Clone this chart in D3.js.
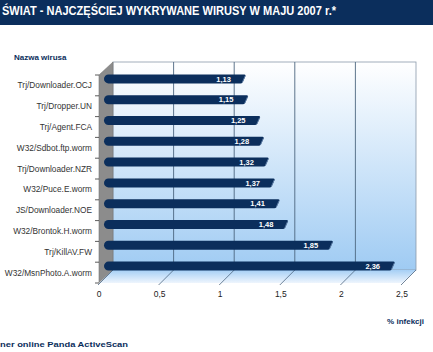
<!DOCTYPE html>
<html>
<head>
<meta charset="utf-8">
<script src="https://cdn.jsdelivr.net/npm/d3@7"></script>
<style>
  body { margin: 0; background: #fff; }
  text { font-family: Arial, "Liberation Sans", sans-serif; }
</style>
</head>
<body>
<div id="chart"></div>
<script>
const viruses = ["Trj/Downloader.OCJ", "Trj/Dropper.UN", "Trj/Agent.FCA", "W32/Sdbot.ftp.worm",
  "Trj/Downloader.NZR", "W32/Puce.E.worm", "JS/Downloader.NOE", "W32/Brontok.H.worm",
  "Trj/KillAV.FW", "W32/MsnPhoto.A.worm"];
const infections = [1.13, 1.15, 1.25, 1.28, 1.32, 1.37, 1.41, 1.48, 1.85, 2.36];
const xTicks = [0, 0.5, 1, 1.5, 2, 2.5];

const W = 433, H = 352;
const depth = { dx: 14, dy: -13 };
const navy = "#0b2e5c";

const svg = d3.select("#chart").append("svg")
  .attr("width", W).attr("height", H);

const defs = svg.append("defs");
const wallGrad = defs.append("linearGradient").attr("id", "wall")
  .attr("x1", 0).attr("y1", 0).attr("x2", 0).attr("y2", 1);
wallGrad.append("stop").attr("offset", "0%").attr("stop-color", "#ffffff");
wallGrad.append("stop").attr("offset", "100%").attr("stop-color", "#9fcbf3");
const floorGrad = defs.append("linearGradient").attr("id", "floor")
  .attr("x1", 0).attr("y1", 0).attr("x2", 0).attr("y2", 1);
floorGrad.append("stop").attr("offset", "0%").attr("stop-color", "#a6cff5");
floorGrad.append("stop").attr("offset", "100%").attr("stop-color", "#eef5fd");

// title bar
svg.append("rect").attr("x", 0).attr("y", 0).attr("width", W).attr("height", 25).attr("fill", navy);
svg.append("text").attr("x", 2).attr("y", 15)
  .attr("fill", "#fff").attr("font-size", 13).attr("font-weight", "bold")
  .attr("textLength", 334).attr("lengthAdjust", "spacingAndGlyphs")
  .text("ŚWIAT - NAJCZĘŚCIEJ WYKRYWANE WIRUSY W MAJU 2007 r.*");

svg.append("text").attr("x", 14).attr("y", 60)
  .attr("fill", navy).attr("font-size", 8).attr("font-weight", "bold")
  .text("Nazwa wirusa");

const x = d3.scaleLinear().domain([0, 2.5]).range([99, 402]);
const y = d3.scaleBand().domain(viruses).range([75, 283]);
const yTop = y.range()[0], yBot = y.range()[1];

// back wall
svg.append("rect")
  .attr("x", x(0) + depth.dx).attr("y", yTop + depth.dy)
  .attr("width", x(2.5) - x(0)).attr("height", yBot - yTop)
  .attr("fill", "url(#wall)").attr("stroke", "#8a9aaa").attr("stroke-width", 0.8);

// side wall
svg.append("path")
  .attr("d", `M${x(0)},${yTop} L${x(0) + depth.dx},${yTop + depth.dy} L${x(0) + depth.dx},${yBot + depth.dy} L${x(0)},${yBot} Z`)
  .attr("fill", "#8c8c8c").attr("stroke", "#777").attr("stroke-width", 0.6);

// floor
svg.append("path")
  .attr("d", `M${x(0)},${yBot} L${x(0) + depth.dx},${yBot + depth.dy} L${x(2.5) + depth.dx},${yBot + depth.dy} L${x(2.5)},${yBot} Z`)
  .attr("fill", "url(#floor)");

// grid lines on back wall and floor
svg.append("g").selectAll("line")
  .data(xTicks.slice(1, -1))
  .join("line")
  .attr("x1", d => x(d) + depth.dx).attr("x2", d => x(d) + depth.dx)
  .attr("y1", yTop + depth.dy).attr("y2", yBot + depth.dy)
  .attr("stroke", "#4d6680").attr("stroke-width", 0.9);

svg.append("g").selectAll("line")
  .data(xTicks)
  .join("line")
  .attr("x1", d => x(d) + depth.dx).attr("y1", yBot + depth.dy)
  .attr("x2", d => x(d) - 1).attr("y2", yBot + 2)
  .attr("stroke", "#4d6680").attr("stroke-width", 0.8);

// x tick labels
svg.append("g").selectAll("text")
  .data(xTicks)
  .join("text")
  .attr("x", d => x(d)).attr("y", 297)
  .attr("text-anchor", "middle").attr("font-size", 8.5).attr("fill", "#222")
  .text(d => String(d).replace(".", ","));

// y axis ticks and labels
svg.append("g").selectAll("line")
  .data(d3.range(viruses.length + 1))
  .join("line")
  .attr("x1", x(0) - 4).attr("x2", x(0))
  .attr("y1", i => yTop + i * y.step()).attr("y2", i => yTop + i * y.step())
  .attr("stroke", "#333").attr("stroke-width", 0.8);

svg.append("g").selectAll("text")
  .data(viruses)
  .join("text")
  .attr("x", 92).attr("y", d => y(d) + y.bandwidth() / 2 + 3)
  .attr("text-anchor", "end").attr("font-size", 8.3).attr("fill", "#333")
  .text(d => d);

// bars (drawn at mid depth)
const barH = 9;
const mid = { dx: depth.dx / 2, dy: depth.dy / 2 };
function barPath(v, cy) {
  const x0 = x(0) + mid.dx - 2, x1 = x(v) + mid.dx;
  const t = cy - barH / 2, b = cy + barH / 2, r = barH / 2;
  return `M${x0 + r},${t} L${x1 + 1.5},${t} Q${x1 + 3},${t} ${x1 + 2.5},${t + 1.5}` +
    ` L${x1 - 0.5},${b - 1} Q${x1 - 1},${b} ${x1 - 2.5},${b} L${x0 + r},${b}` +
    ` A${r},${r} 0 0 1 ${x0 + r},${t} Z`;
}
const bars = svg.append("g").selectAll("g")
  .data(viruses.map((v, i) => ({ name: v, value: infections[i] })))
  .join("g");

bars.append("path")
  .attr("d", d => barPath(d.value, y(d.name) + y.bandwidth() / 2 + mid.dy))
  .attr("fill", navy);

bars.append("path")
  .attr("d", d => {
    const cy = y(d.name) + y.bandwidth() / 2 + mid.dy, x1 = x(d.value) + mid.dx;
    return `M${x1 + 2.2},${cy - barH / 2 + 1.5} L${x1 - 0.6},${cy + barH / 2 - 1}`;
  })
  .attr("stroke", "#5b7ba3").attr("stroke-width", 1).attr("fill", "none");

bars.append("text")
  .attr("x", d => x(d.value) + mid.dx - 12)
  .attr("y", d => y(d.name) + y.bandwidth() / 2 + mid.dy + 2.7)
  .attr("text-anchor", "end").attr("font-size", 7.5).attr("font-weight", "bold")
  .attr("fill", "#fff")
  .text(d => d.value.toFixed(2).replace(".", ","));

svg.append("text").attr("x", 424).attr("y", 324)
  .attr("text-anchor", "end").attr("font-size", 8).attr("font-weight", "bold").attr("fill", navy)
  .text("% infekcji");

svg.append("text").attr("x", 0).attr("y", 347)
  .attr("font-size", 8).attr("font-weight", "bold").attr("fill", navy)
  .attr("textLength", 128).attr("lengthAdjust", "spacingAndGlyphs")
  .text("ner online Panda ActiveScan");
</script>
</body>
</html>
